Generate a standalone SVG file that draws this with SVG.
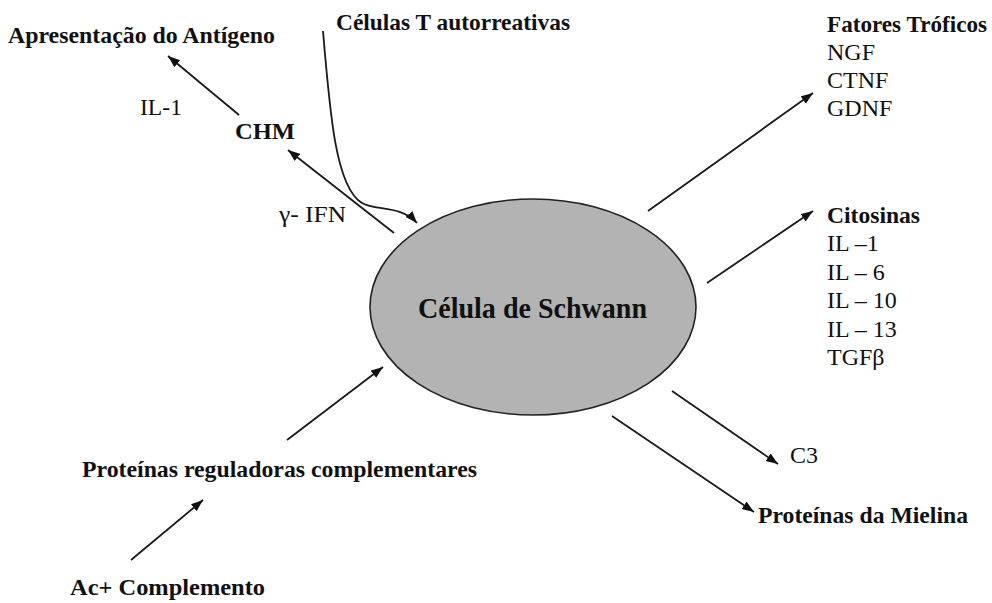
<svg xmlns="http://www.w3.org/2000/svg" width="992" height="603" viewBox="0 0 992 603">
<defs>
<style>
text{font-family:"Liberation Serif","Times New Roman",serif;font-size:24px;fill:#111}
.b{font-weight:bold}
.c{stroke:#1a1a1a;stroke-width:1.8;fill:none}
</style>
<marker id="ah" markerUnits="userSpaceOnUse" markerWidth="14" markerHeight="10" refX="12" refY="4.5" orient="auto">
<path d="M0,0 L12,4.5 L0,9 Z" fill="#111"/>
</marker>
</defs>
<rect width="992" height="603" fill="#fff"/>
<g id="schwann">
<ellipse cx="533" cy="307" rx="163" ry="108" fill="#b3b3b3" stroke="#222" stroke-width="1.6"/>
<text class="b" x="418" y="318" style="font-size:29px" textLength="229" lengthAdjust="spacingAndGlyphs">Célula de Schwann</text>
</g>
<g id="apresentacao"><text class="b" x="8" y="43" textLength="267" lengthAdjust="spacingAndGlyphs">Apresentação do Antígeno</text></g>
<g id="celulas-t"><text class="b" x="336" y="30" textLength="234" lengthAdjust="spacingAndGlyphs">Células T autorreativas</text></g>
<g id="il1-label"><text x="140" y="115" textLength="42" lengthAdjust="spacingAndGlyphs">IL-1</text></g>
<g id="chm"><text class="b" x="235" y="139" textLength="60" lengthAdjust="spacingAndGlyphs">CHM</text></g>
<g id="ifn-label"><text x="279" y="222" textLength="67" lengthAdjust="spacingAndGlyphs">γ- IFN</text></g>
<g id="fatores">
<text class="b" x="827" y="32" textLength="160" lengthAdjust="spacingAndGlyphs">Fatores Tróficos</text>
<text x="827" y="60">NGF</text>
<text x="827" y="88">CTNF</text>
<text x="827" y="116">GDNF</text>
</g>
<g id="citosinas">
<text class="b" x="827" y="223" textLength="93" lengthAdjust="spacingAndGlyphs">Citosinas</text>
<text x="827" y="251">IL –1</text>
<text x="827" y="280">IL – 6</text>
<text x="827" y="308">IL – 10</text>
<text x="827" y="337">IL – 13</text>
<text x="827" y="365">TGFβ</text>
</g>
<g id="c3"><text x="790" y="463">C3</text></g>
<g id="mielina"><text class="b" x="758" y="523" textLength="210" lengthAdjust="spacingAndGlyphs">Proteínas  da Mielina</text></g>
<g id="reguladoras"><text class="b" x="82" y="477" textLength="395" lengthAdjust="spacingAndGlyphs">Proteínas reguladoras complementares</text></g>
<g id="complemento"><text class="b" x="70" y="595" textLength="195" lengthAdjust="spacingAndGlyphs">Ac+ Complemento</text></g>
<g id="connectors">
<line class="c" x1="239" y1="115" x2="168" y2="56" marker-end="url(#ah)"/>
<line class="c" x1="394" y1="233" x2="288" y2="150" marker-end="url(#ah)"/>
<path class="c" d="M323,31 C330,115 336,188 362,203 C376,211 401,205 417,223" marker-end="url(#ah)"/>
<line class="c" x1="648" y1="211" x2="813" y2="93" marker-end="url(#ah)"/>
<line class="c" x1="707" y1="283" x2="813" y2="211" marker-end="url(#ah)"/>
<line class="c" x1="672" y1="391" x2="778" y2="464" marker-end="url(#ah)"/>
<line class="c" x1="612" y1="416" x2="754" y2="512" marker-end="url(#ah)"/>
<line class="c" x1="287" y1="440" x2="383" y2="367" marker-end="url(#ah)"/>
<line class="c" x1="131" y1="560" x2="203" y2="500" marker-end="url(#ah)"/>
</g>
</svg>
